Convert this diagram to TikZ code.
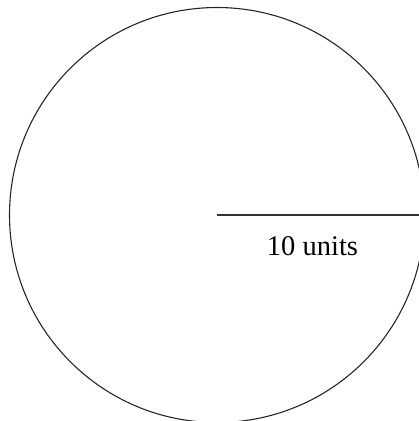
\documentclass[tikz,border=0pt]{standalone}
\usepackage{fontspec}
\setmainfont{Liberation Serif}
\begin{document}
\begin{tikzpicture}[x=1pt,y=-1pt,
  outline/.style={draw=black!85,line width=1.1pt},
  radiusline/.style={draw=black!80,line width=1.1pt},
  lbl/.style={font=\fontsize{28.5}{31}\selectfont,inner sep=0pt,anchor=base}]
\useasboundingbox (0,0) rectangle (419,421);
\clip (0,0) rectangle (419,421);
\coordinate (c) at (217,215);
\coordinate (r) at (430,215);
\draw[outline] (c) circle[radius=207.5];
\draw[radiusline] (c) -- (r);
\node[lbl] (t) at (312.5,255.5) {10 units};
\end{tikzpicture}
\end{document}
